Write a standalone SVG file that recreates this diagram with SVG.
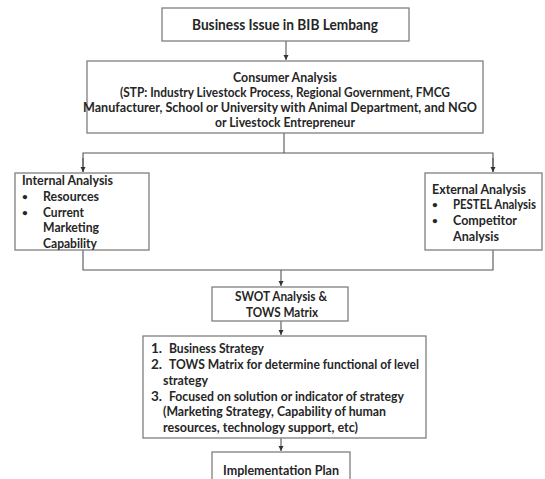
<svg xmlns="http://www.w3.org/2000/svg" width="545" height="479" viewBox="0 0 545 479">
<style>
  .box{fill:#ffffff;stroke:#7f7f7f;stroke-width:1.3}
  .t{font-family:Lato,"Liberation Sans",Arial,sans-serif;font-weight:bold;font-size:13.5px;fill:#262626}
  .big{font-size:14.5px}
  .b{font-size:10px}
  .m{text-anchor:middle}
  .c{fill:none;stroke:#555555;stroke-width:1.1}
</style>
<defs>
  <marker id="ah" markerWidth="6" markerHeight="6" refX="5" refY="3" orient="auto" markerUnits="userSpaceOnUse">
    <path d="M0,0.5 L5,3 L0,5.5 Z" fill="#333333"/>
  </marker>
</defs>
<rect width="545" height="479" fill="#ffffff"/>

<g id="connectors">
  <line class="c" x1="286" y1="41" x2="286" y2="60" marker-end="url(#ah)"/>
  <line class="c" x1="284" y1="133" x2="284" y2="153"/>
  <polyline class="c" points="83,172 83,153 493,153 493,172"/>
  <line class="c" x1="83" y1="158" x2="83" y2="172" marker-end="url(#ah)"/>
  <line class="c" x1="493" y1="158" x2="493" y2="172" marker-end="url(#ah)"/>
  <polyline class="c" points="83,250 83,270 493,270 493,250"/>
  <line class="c" x1="281" y1="270" x2="281" y2="286" marker-end="url(#ah)"/>
  <line class="c" x1="281" y1="321" x2="281" y2="335" marker-end="url(#ah)"/>
  <line class="c" x1="281" y1="438" x2="281" y2="451" marker-end="url(#ah)"/>
</g>

<g id="business-issue">
  <rect class="box" x="162" y="8" width="247" height="33"/>
  <text class="t big m" x="285" y="30" textLength="186" lengthAdjust="spacingAndGlyphs">Business Issue in BIB Lembang</text>
</g>

<g id="consumer-analysis">
  <rect class="box" x="87" y="61" width="396" height="72"/>
  <text class="t m" x="285" y="81.5" textLength="104" lengthAdjust="spacingAndGlyphs">Consumer Analysis</text>
  <text class="t m" x="285" y="96.5" textLength="330" lengthAdjust="spacingAndGlyphs">(STP: Industry Livestock Process, Regional Government, FMCG</text>
  <text class="t m" x="280" y="111.5" textLength="394" lengthAdjust="spacingAndGlyphs">Manufacturer, School or University with Animal Department, and NGO</text>
  <text class="t m" x="285" y="126.5" textLength="140" lengthAdjust="spacingAndGlyphs">or Livestock Entrepreneur</text>
</g>

<g id="internal-analysis">
  <rect class="box" x="15" y="173" width="134" height="77"/>
  <text class="t" x="22" y="184.5" textLength="91" lengthAdjust="spacingAndGlyphs">Internal Analysis</text>
  <text class="t b" x="22" y="200">•</text>
  <text class="t" x="43" y="200.5" textLength="56" lengthAdjust="spacingAndGlyphs">Resources</text>
  <text class="t b" x="22" y="216">•</text>
  <text class="t" x="43" y="216.5" textLength="41" lengthAdjust="spacingAndGlyphs">Current</text>
  <text class="t" x="43" y="232" textLength="56" lengthAdjust="spacingAndGlyphs">Marketing</text>
  <text class="t" x="43" y="247.5" textLength="54" lengthAdjust="spacingAndGlyphs">Capability</text>
</g>

<g id="external-analysis">
  <rect class="box" x="425" y="173" width="117" height="77"/>
  <text class="t" x="432" y="193.5" textLength="94" lengthAdjust="spacingAndGlyphs">External Analysis</text>
  <text class="t b" x="432" y="208">•</text>
  <text class="t" x="453" y="208.5" style="font-size:12.5px" textLength="83" lengthAdjust="spacingAndGlyphs">PESTEL Analysis</text>
  <text class="t b" x="432" y="224">•</text>
  <text class="t" x="453" y="224.5" textLength="64" lengthAdjust="spacingAndGlyphs">Competitor</text>
  <text class="t" x="453" y="240.5" textLength="46" lengthAdjust="spacingAndGlyphs">Analysis</text>
</g>

<g id="swot">
  <rect class="box" x="212" y="287" width="136" height="34"/>
  <text class="t m" x="281" y="300.5" textLength="92" lengthAdjust="spacingAndGlyphs">SWOT Analysis &amp;</text>
  <text class="t m" x="282" y="316.5" textLength="72" lengthAdjust="spacingAndGlyphs">TOWS Matrix</text>
</g>

<g id="strategy">
  <rect class="box" x="143" y="336" width="283" height="102"/>
  <text class="t" x="151" y="352.5">1.</text>
  <text class="t" x="169" y="352.5" textLength="95" lengthAdjust="spacingAndGlyphs">Business Strategy</text>
  <text class="t" x="151" y="368.5">2.</text>
  <text class="t" x="169" y="368.5" textLength="250" lengthAdjust="spacingAndGlyphs">TOWS Matrix for determine functional of level</text>
  <text class="t" x="163" y="384.5" textLength="45" lengthAdjust="spacingAndGlyphs">strategy</text>
  <text class="t" x="151" y="401">3.</text>
  <text class="t" x="169" y="401" textLength="235" lengthAdjust="spacingAndGlyphs">Focused on solution or indicator of strategy</text>
  <text class="t" x="163" y="415.5" textLength="223" lengthAdjust="spacingAndGlyphs">(Marketing Strategy, Capability of human</text>
  <text class="t" x="163" y="431.5" textLength="195" lengthAdjust="spacingAndGlyphs">resources, technology support, etc)</text>
</g>

<g id="implementation">
  <rect class="box" x="212" y="452" width="138" height="40"/>
  <text class="t m" x="281" y="474.5" textLength="116" lengthAdjust="spacingAndGlyphs">Implementation Plan</text>
</g>
</svg>
